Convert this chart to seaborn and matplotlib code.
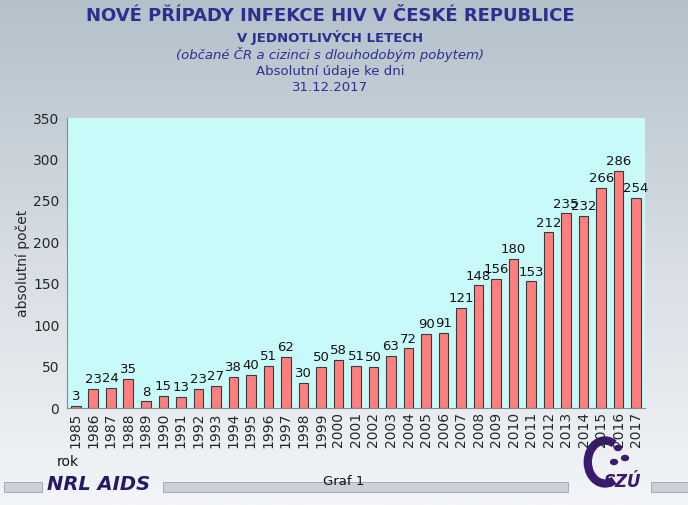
import numpy as np
import pandas as pd
import matplotlib
matplotlib.use("Agg")
import matplotlib.pyplot as plt
import seaborn as sns
from matplotlib.patches import Rectangle, Arc, Circle
from matplotlib.colors import LinearSegmentedColormap

years = [str(y) for y in range(1985, 2018)]
cases = [3, 23, 24, 35, 8, 15, 13, 23, 27, 38, 40, 51, 62, 30, 50, 58, 51, 50,
         63, 72, 90, 91, 121, 148, 156, 180, 153, 212, 235, 232, 266, 286, 254]
yticks = [0, 50, 100, 150, 200, 250, 300, 350]

sns.set_style("white")
plt.rcParams["font.family"] = ["DejaVu Sans"]

fig = plt.figure(figsize=(6.88, 5.05), dpi=100)

# background gradient
bg = fig.add_axes([0, 0, 1, 1], zorder=-10)
grad = np.linspace(0, 1, 256).reshape(-1, 1)
cmap = LinearSegmentedColormap.from_list("bg", ["#b4c1cb", "#d6dde3", "#f3f5f8"])
bg.imshow(grad, aspect="auto", cmap=cmap, extent=[0, 1, 0, 1], origin="upper")
bg.set_xlim(0, 1); bg.set_ylim(0, 1)
bg.axis("off")

ax = fig.add_axes([0.0974, 0.192, 0.840, 0.574])
df = pd.DataFrame({"rok": years, "pocet": cases})
sns.barplot(data=df, x="rok", y="pocet", color="#ff7f7f", edgecolor="#3a3a3a",
            linewidth=0.8, width=0.55, saturation=1, ax=ax)
ax.set_facecolor("#c8fafa")
ax.set_ylim(0, 350)
ax.set_xlim(-0.5, len(years) - 0.5)
ax.set_yticks(yticks)
ax.bar_label(ax.containers[0], fontsize=9.5, padding=2, color="#111111")
ax.set_xlabel("")
ax.set_ylabel("absolutní počet", fontsize=10, labelpad=2)
ax.tick_params(axis="y", labelsize=10, length=4, direction="inout", color="#888888")
ax.tick_params(axis="x", labelsize=10, rotation=90, length=0, pad=3)
ax.set_xticks(np.arange(-0.5, len(years), 1), minor=True)
ax.tick_params(axis="x", which="minor", length=4, color="#888888", direction="out")
for s in ["top", "right"]:
    ax.spines[s].set_visible(False)
ax.spines["left"].set_color("#888888")
ax.spines["bottom"].set_color("#888888")

navy = "#2b2f8f"
fig.text(0.48, 0.968, "NOVÉ PŘÍPADY INFEKCE HIV V ČESKÉ REPUBLICE", ha="center",
         va="center", fontsize=13, fontweight="bold", color=navy)
fig.text(0.48, 0.925, "V JEDNOTLIVÝCH LETECH", ha="center", va="center",
         fontsize=9.5, fontweight="bold", color=navy)
fig.text(0.48, 0.893, "(občané ČR a cizinci s dlouhodobým pobytem)", ha="center",
         va="center", fontsize=9.5, style="italic", color=navy)
fig.text(0.48, 0.859, "Absolutní údaje ke dni", ha="center", va="center",
         fontsize=9.5, color=navy)
fig.text(0.48, 0.827, "31.12.2017", ha="center", va="center", fontsize=9.5, color=navy)

fig.text(0.083, 0.085, "rok", ha="left", va="center", fontsize=10, color="#111111")
fig.text(0.50, 0.047, "Graf 1", ha="center", va="center", fontsize=9.5, color="#111111")

# footer bars
for x0, x1 in [(4, 42), (163, 568), (651, 688)]:
    bg.add_patch(Rectangle((x0 / 688, 1 - 492 / 505), (x1 - x0) / 688, 10 / 505,
                           facecolor="#ccd1d9", edgecolor="#9aa3ae", lw=0.6))
fig.text(0.068, 0.040, "NRL AIDS", ha="left", va="center", fontsize=14,
         fontweight="bold", style="italic", color="#241a66")

# SZÚ logo (approximate)
bg.add_patch(Arc((605 / 688, 1 - 462 / 505), 0.05, 0.085, theta1=70, theta2=290,
                 lw=6, color="#3a1a6e"))
for cx, cy in [(618, 448), (625, 458), (614, 462)]:
    bg.add_patch(Circle((cx / 688, 1 - cy / 505), 0.005, color="#3a1a6e"))
fig.text(0.905, 0.045, "SZÚ", ha="center", va="center", fontsize=12,
         fontweight="bold", style="italic", color="#3a1a6e")

fig.savefig("out.png", dpi=100)
